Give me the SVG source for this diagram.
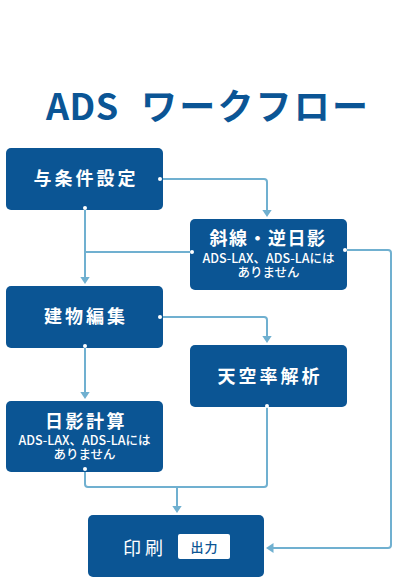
<svg xmlns="http://www.w3.org/2000/svg" width="400" height="580" viewBox="0 0 400 580">
<style>
.box{fill:#0b5594}
.t{font-family:"Noto Sans CJK JP","Noto Sans",sans-serif;fill:#ffffff;font-weight:bold;font-size:18px;letter-spacing:3px;text-anchor:middle}
.s{font-family:"Noto Sans CJK JP","Noto Sans",sans-serif;fill:#ffffff;font-weight:500;font-size:12.5px;text-anchor:middle}
.c{fill:none;stroke:#70b0d0;stroke-width:2}
.dot{fill:#ffffff}
.title{font-family:"Noto Sans CJK JP","Noto Sans",sans-serif;font-weight:bold;font-size:36px;fill:#0b5595}
</style>
<defs>
<marker id="arr" markerUnits="userSpaceOnUse" markerWidth="8" markerHeight="10" viewBox="0 0 8 10" refX="0.5" refY="5" orient="auto">
<path d="M0,0 L7.5,5 L0,10 z" fill="#70b0d0"/>
</marker>
</defs>
<rect width="400" height="580" fill="#ffffff"/>
<text class="title" y="119.5"><tspan x="46" style="letter-spacing:0.5px">ADS</tspan><tspan x="141" style="letter-spacing:2.2px">ワークフロー</tspan></text>
<g id="connectors">
<path class="c" d="M160 179 H264 Q267 179 267 182 V210" marker-end="url(#arr)"/>
<path class="c" d="M85 208 V277" marker-end="url(#arr)"/>
<path class="c" d="M192 252 H85"/>
<path class="c" d="M345 250 H388 Q391 250 391 253 V545 Q391 548 388 548 H273" marker-end="url(#arr)"/>
<path class="c" d="M160 317 H264 Q267 317 267 320 V336" marker-end="url(#arr)"/>
<path class="c" d="M85 346 V392" marker-end="url(#arr)"/>
<path class="c" d="M85 469 V484 Q85 487 88 487 H264 Q267 487 267 484 V406"/>
<path class="c" d="M177 487 V506" marker-end="url(#arr)"/>
</g>
<g id="n1">
<rect class="box" x="6" y="148" width="157" height="62" rx="5"/>
<text class="t" x="86" y="185">与条件設定</text>
</g>
<g id="n2">
<rect class="box" x="190" y="219" width="157" height="71" rx="5"/>
<text class="t" x="268" y="245" style="letter-spacing:1.5px">斜線・逆日影</text>
<text class="s"><tspan x="268.5" y="263">ADS-LAX、ADS-LAには</tspan><tspan x="268.5" y="276.5">ありません</tspan></text>
</g>
<g id="n3">
<rect class="box" x="6" y="286" width="157" height="62" rx="5"/>
<text class="t" x="86" y="323">建物編集</text>
</g>
<g id="n4">
<rect class="box" x="190" y="345" width="157" height="62" rx="5"/>
<text class="t" x="270" y="383">天空率解析</text>
</g>
<g id="n5">
<rect class="box" x="6" y="401" width="157" height="71" rx="5"/>
<text class="t" x="86" y="427.5" style="letter-spacing:2.5px">日影計算</text>
<text class="s"><tspan x="84.5" y="445">ADS-LAX、ADS-LAには</tspan><tspan x="84.5" y="458.5">ありません</tspan></text>
</g>
<g id="n6">
<rect class="box" x="88" y="515" width="176" height="62" rx="5"/>
<text class="t" x="123" y="555" style="text-anchor:start;letter-spacing:4px;font-weight:normal">印刷</text>
<rect x="178" y="534" width="52" height="25" rx="2" fill="#ffffff"/>
<text x="204.5" y="551.5" font-family="'Noto Sans CJK JP','Noto Sans',sans-serif" font-size="13" font-weight="500" letter-spacing="1" fill="#0b5594" text-anchor="middle">出力</text>
</g>
<g id="dots">
<circle class="dot" cx="160" cy="179" r="2"/>
<circle class="dot" cx="85" cy="208" r="2"/>
<circle class="dot" cx="192" cy="252" r="2"/>
<circle class="dot" cx="345" cy="250" r="2"/>
<circle class="dot" cx="160" cy="317" r="2"/>
<circle class="dot" cx="85" cy="346" r="2"/>
<circle class="dot" cx="85" cy="469" r="2"/>
<circle class="dot" cx="267" cy="406" r="2"/>
</g>
</svg>
